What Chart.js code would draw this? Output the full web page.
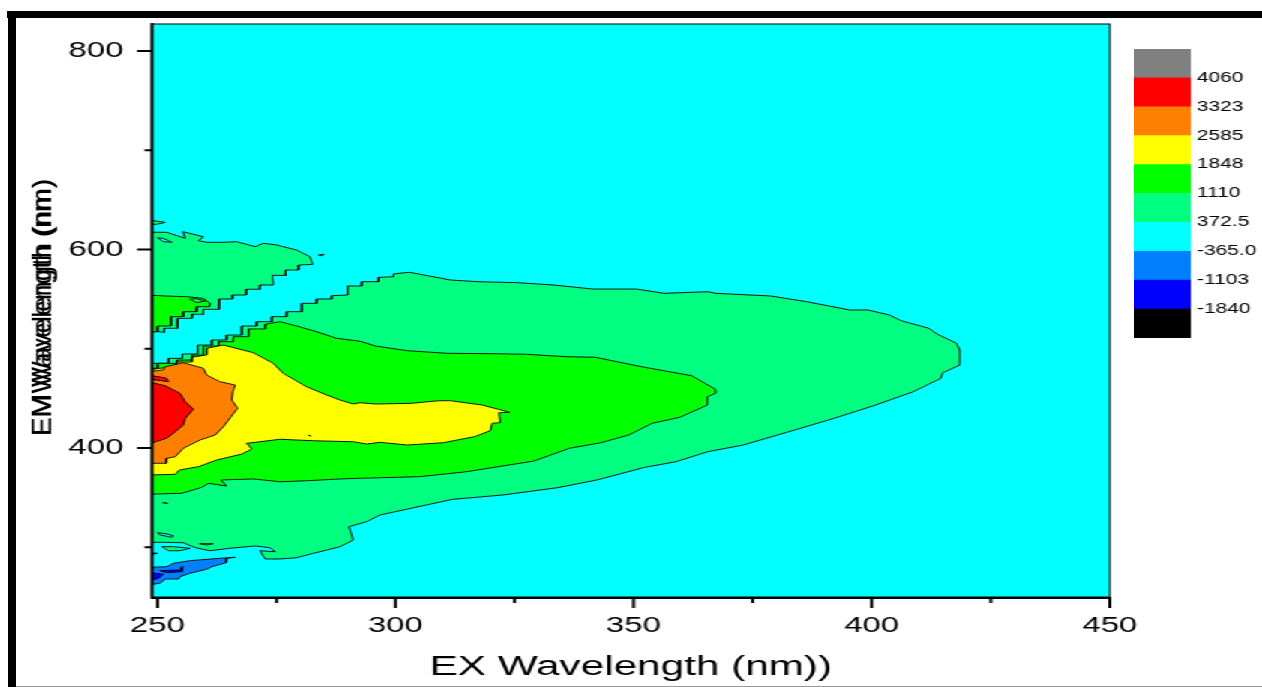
<!DOCTYPE html>
<html lang="en">
<head>
    <meta charset="UTF-8">
    <title>EEM contour</title>
    <script src="https://cdn.jsdelivr.net/npm/chart.js"></script>
    <style>
        html, body { margin: 0; height: 100%; background: #fff; overflow: hidden; }
        /* the figure is a screenshot stretched sideways, so the canvases are too */
        #figure { position: absolute; left: 0; top: 0; width: 841px; height: 687px; transform: scaleX(1.5); transform-origin: 0 0; }
        #plot { position: absolute; left: 0; top: 0; }
        #colorbar { position: absolute; left: 755.5px; top: 44px; }
        .bar { position: absolute; background: #000; }
    </style>
</head>
<body>
    <div id="figure">
        <canvas id="plot" width="841" height="687"></canvas>
        <canvas id="colorbar" width="85" height="299"></canvas>
    </div>
    <!-- Thick picture frame around the pasted figure -->
    <div class="bar" style="left:7px;top:11px;width:1255px;height:7px"></div>
    <div class="bar" style="left:8px;top:11px;width:8px;height:676px"></div>
    <div class="bar" style="left:16px;top:686px;width:1246px;height:1px;background:#999"></div>

    <script>
        // Axis values
        var xMajorTicks = [250, 300, 350, 400, 450];
        var xMinorTicks = [275, 325, 375, 425];
        var yMajorTicks = [400, 600, 800];
        var yMinorTicks = [300, 500, 700];
        var xTitle = 'EX Wavelength (nm))';
        var yTitles = ['EM Wavelength (nm)', 'EMWavelength (nm)'];

        // Colour scale, bottom to top
        var levelColors = ['#000000', '#0000ff', '#0080ff', '#00ffff', '#00ff80', '#00ff00', '#ffff00', '#ff8000', '#ff0000', '#808080'];
        var levelLabels = ['-1840', '-1103', '-365.0', '372.5', '1110', '1848', '2585', '3323', '4060'];

        // Contour outlines as [EX nm, EM nm]
        var mainBody = [[248,305.1],[251.2,305.1],[255.4,304.7],[257.9,299.7],[261,296.6],[265.2,299.1],[270.5,301.4],[273.6,299.7],[274.7,295.6],[271.5,296.6],[272.6,288.3],[275.7,288.3],[279.2,289.6],[282.7,294],[285.5,297.3],[288.3,300.7],[291.1,307.4],[290.2,320.8],[293.9,325.9],[296.7,332.6],[312,348.4],[322.4,352.7],[334,360.1],[342.3,367.9],[352.3,380.6],[358.9,386.3],[365.6,396.4],[373,403.1],[383.8,418.2],[392.1,430],[400.4,442.7],[408.7,456.8],[414.5,470.3],[414.9,475.9],[418.5,483.7],[418.5,498.8],[417.8,505.6],[413.7,514.9],[412,520.7],[406.2,528.3],[403.7,534.1],[399.2,539.1],[395.4,539.1],[386.3,547.5],[378.8,553.2],[367.2,555.9],[365.6,557.5],[356.4,555.9],[350.6,560.2],[341.4,560.2],[333.2,564.3],[325.7,566.6],[317.4,567.6],[311.6,569.3],[302.9,577.1],[299.6,575.4],[299.6,572.6],[296.4,572],[296.4,567.6],[292.9,567.6],[292.9,563.3],[289.9,563.3],[289.9,554.2],[286.6,553.5],[286.6,550.2],[283.4,550.2],[283.4,545.8],[280.3,545.8],[280.3,537.4],[277.1,537.4],[277.1,532.4],[274,532.4],[274,527.3],[270.8,527.3],[270.8,523],[267.7,523],[267.7,513.9],[264.5,513.9],[264.5,508.9],[261.4,508.9],[261.4,503.8],[258.4,503.8],[258.4,494.8],[255.2,494.8],[255.2,490.4],[252.3,490.4],[252.3,485.4],[248,485.4],[248,305.1]];
        var upperIsland = [[248,617.4],[251.9,617.4],[255.8,611.3],[255.3,618],[259.6,612.9],[258.6,608.9],[260.3,607.3],[263.8,607.3],[266.6,607.9],[270.5,602.9],[272.2,606.3],[275,604.6],[279.2,599.5],[282,592.8],[282.6,585.1],[279.6,584.4],[279.6,579.4],[276.9,579.4],[276.9,574],[274.1,574],[274.3,564.3],[271.5,564.3],[271.5,560],[268.6,560],[268.6,554.2],[265.7,554.2],[265.7,550.2],[262.9,550.2],[262.9,539.8],[259.6,539.8],[259.6,534.8],[257.2,534.8],[257.2,530.7],[254.2,530.7],[254.2,520.7],[251.4,520.7],[251.4,516.6],[248,518.3],[248,617.4]];
        var upperCore = [[248,554.2],[251.6,553.2],[256.1,552.5],[259.6,550.9],[261,545.8],[260.9,542.4],[258.2,542.4],[258.2,537.4],[255.4,537.4],[255.4,532.4],[252.8,532.4],[252.8,523],[250,523],[250,517.2],[248,516.6],[248,554.2]];
        var topSliver = [[248,629.8],[251.6,627.4],[249.8,625.4],[248,625.7],[248,629.8]];
        var upperHole = [[250,611.9],[251.2,611.3],[253,607.3],[251.2,607.9],[250,611.9]];
        var upperSpeck = [[283.8,594.5],[285,595.2],[284.5,593.8],[283.8,594.5]];
        var upperCoreHole = [[256.8,549.9],[258.2,550.5],[260,548.2],[258.2,546.5],[256.8,549.9]];
        var level1110 = [[248,353.5],[255.1,354.5],[259.3,360.5],[260.7,364.5],[264.5,361.8],[263.3,367.9],[270.1,368.9],[275.7,366.1],[281.3,367.1],[288.3,368.9],[292.5,369.6],[305,371.2],[314.9,376.2],[329.1,387],[336.5,399.8],[343.1,405.4],[349,413.2],[353.9,425],[359.7,431],[365.5,443.4],[365.5,451.8],[367.2,455.2],[367.2,459.2],[362.2,472.9],[352.3,481.4],[341.9,491.5],[335.7,492.1],[327.4,494.5],[319.9,495.1],[310.8,495.5],[302.5,498.1],[295.8,502.8],[292.5,507.6],[287.6,510.6],[283.4,517.2],[279.2,523],[275.7,527.3],[272.6,524.7],[272.6,520],[269.1,520],[269.1,512.2],[265.9,512.2],[265.9,507.2],[262.8,507.2],[262.8,502.8],[259.6,502.8],[259.6,493.8],[257.2,493.8],[257.2,488.7],[254,488.7],[254,485.4],[250,485.4],[250,480.4],[248,480.4],[248,353.5]];
        var level1848 = [[248,372.9],[253.7,373.6],[254.6,377.9],[258.6,381.3],[262.4,388],[267.7,394],[269.8,399.1],[268.7,404.8],[270.5,405.8],[275.7,408.9],[282.7,407.4],[291.1,406.4],[293.9,404.1],[296.7,405.8],[302.5,403.1],[310,405.4],[316.6,411.5],[319.9,417.5],[320.3,425],[322,425.6],[321.7,435.6],[324,436],[321.6,439.1],[318.2,443.4],[311.6,447.7],[309.1,447.7],[303.3,445.1],[295.8,444.4],[292.5,445.7],[291.1,444.4],[288.3,448.4],[285.5,453.5],[281.3,461.8],[276.4,475.3],[274.3,485.4],[270.1,496.1],[263.8,503.8],[260.3,500.5],[260.3,493.8],[257.2,491.5],[257.2,486.7],[254,486.7],[254,482.7],[248,478.7],[248,372.9]];
        var level2585 = [[248,477],[251.2,478.7],[251.6,482],[255.4,486],[259.6,480.4],[260.3,473.6],[263.1,466.9],[266.3,463.5],[265.8,456.8],[265.6,448.4],[266.8,440.1],[263.8,421.5],[262.1,413.2],[258.9,408.1],[255.4,399.8],[253.7,391.3],[251.9,389.7],[251.8,384.7],[248,384.7],[248,477]];
        var level3323 = [[248,466.9],[251.6,462.8],[254.7,455.2],[255.8,446.7],[257.5,439.1],[255.8,430],[255.4,423.3],[253.3,414.9],[251.9,409.9],[248,403.8],[248,466.9]];
        var redSliver = [[248,473.6],[251.8,470.6],[252.3,466.9],[248,469.6],[248,473.6]];
        var lowerHole = [[250,314.8],[251.9,313.5],[253.3,311.7],[253,310.1],[250.5,312.5],[250,314.8]];
        var lowerSliver = [[250.9,300.7],[253.3,300.7],[256.8,299.1],[254.7,296.6],[252.3,296.6],[250.9,300.7]];
        var lowerSpeck = [[258.8,303.7],[261.7,303.7],[260.3,302.4],[258.8,303.7]];
        var lowerNick = [[248,294.6],[250,294],[248,292.6],[248,294.6]];
        var speckA = [[251.1,345],[252.1,344.4],[251.6,344.7],[251.1,345]];
        var speckB = [[281.7,412.9],[282.2,412.2],[282,412.6],[281.7,412.9]];
        var levelM365 = [[248,279.9],[251.9,280.5],[253.3,283.9],[256.8,286.6],[263.1,289],[266.3,290],[264.5,289],[264.4,284.6],[261.4,280.5],[260.3,277.9],[256.8,273.9],[254.7,270.4],[254.4,268.1],[251.6,268.1],[250.5,263.8],[248,262.1],[248,279.9]];
        var levelM1103 = [[248,274.9],[251.2,272.9],[250.2,268.8],[248,266.1],[248,274.9]];
        var levelM1103b = [[250.5,276.5],[254.7,277.2],[255.3,280.5],[255.1,275.5],[251.9,274.5],[250.5,276.5]];

        // Painted in this order, each one over the last
        var regions = [
            [mainBody, 4], [topSliver, 4], [upperIsland, 4], [upperSpeck, 4], [upperHole, 3], [upperCore, 5], [upperCoreHole, 4],
            [lowerHole, 3], [lowerSliver, 4], [lowerSpeck, 3], [lowerNick, 4], [speckA, 3],
            [level1110, 5], [level1848, 6], [speckB, 5], [level2585, 7], [redSliver, 8], [level3323, 8],
            [levelM365, 2], [levelM1103, 1], [levelM1103b, 1]
        ];

        var stretch = 1.5;
        var fontFamily = '"Liberation Sans", Arial, sans-serif';

        // Cyan floor, frame, tick marks and the doubled y title
        var plotExtras = {
            id: 'plotExtras',
            beforeDatasetsDraw: function (chart) {
                var a = chart.chartArea, ctx = chart.ctx;
                ctx.save();
                ctx.fillStyle = levelColors[3];
                ctx.fillRect(a.left, a.top, a.right - a.left, a.bottom - a.top);
                ctx.restore();
            },
            afterDraw: function (chart) {
                var a = chart.chartArea, ctx = chart.ctx, sx = chart.scales.x, sy = chart.scales.y;
                ctx.save();
                ctx.strokeStyle = '#000';
                ctx.lineWidth = 1;
                ctx.strokeRect(a.left, a.top, a.right - a.left, a.bottom - a.top);
                ctx.lineWidth = 2;
                ctx.beginPath();
                ctx.moveTo(a.left, a.top - 1);
                ctx.lineTo(a.left, a.bottom + 1);
                ctx.lineTo(a.right, a.bottom + 1);
                function xTick(v, len) { var p = sx.getPixelForValue(v); ctx.moveTo(p, a.bottom); ctx.lineTo(p, a.bottom + len); }
                function yTick(v, len) { var p = sy.getPixelForValue(v); ctx.moveTo(a.left, p); ctx.lineTo(a.left - len, p); }
                xMajorTicks.forEach(function (v) { xTick(v, 11); });
                xMinorTicks.forEach(function (v) { xTick(v, 6); });
                yMajorTicks.forEach(function (v) { yTick(v, 10); });
                yMinorTicks.forEach(function (v) { yTick(v, 5); });
                ctx.stroke();

                // Rotated title was not stretched in the original, so undo it here
                ctx.fillStyle = '#000';
                ctx.textBaseline = 'alphabetic';
                ctx.translate(50.5 / stretch, 436);
                ctx.scale(1 / stretch, 1);
                ctx.rotate(-Math.PI / 2);
                ctx.font = '27.5px ' + fontFamily;
                ctx.fillText(yTitles[0], 0, 0);
                ctx.font = '28.3px ' + fontFamily;
                ctx.fillText(yTitles[1], 0, 0);
                ctx.restore();
            }
        };

        new Chart(document.getElementById('plot'), {
            type: 'scatter',
            data: {
                datasets: regions.map(function (r, i) {
                    return {
                        data: r[0].map(function (p) { return { x: p[0], y: p[1] }; }),
                        showLine: true,
                        fill: 'shape',
                        tension: 0,
                        pointRadius: 0,
                        borderColor: '#000',
                        borderWidth: 0.9,
                        backgroundColor: levelColors[r[1]],
                        order: regions.length - i
                    };
                })
            },
            plugins: [plotExtras],
            options: {
                responsive: false,
                animation: false,
                devicePixelRatio: 1,
                layout: { padding: { left: 0, top: 24, right: 101, bottom: 0 } },
                plugins: { legend: { display: false }, tooltip: { enabled: false } },
                scales: {
                    x: {
                        type: 'linear',
                        min: 248.85,
                        max: 450,
                        grid: { display: false, drawTicks: false },
                        border: { display: false },
                        afterBuildTicks: function (s) { s.ticks = xMajorTicks.map(function (v) { return { value: v }; }); },
                        afterFit: function (s) { s.height = 90; s.paddingLeft = 0; s.paddingRight = 0; },
                        ticks: { autoSkip: false, maxRotation: 0, padding: 16, color: '#000', font: { family: fontFamily, size: 22 } },
                        title: { display: true, text: xTitle, color: '#000', padding: { top: 8, bottom: 3 }, font: { family: fontFamily, size: 28.2 } }
                    },
                    y: {
                        type: 'linear',
                        min: 250,
                        max: 827.2,
                        grid: { display: false, drawTicks: false },
                        border: { display: false },
                        afterBuildTicks: function (s) { s.ticks = yMajorTicks.map(function (v) { return { value: v }; }); },
                        afterFit: function (s) { s.width = 101.3; s.paddingTop = 0; s.paddingBottom = 0; },
                        ticks: { autoSkip: false, padding: 19, color: '#000', font: { family: fontFamily, size: 22 } }
                    }
                }
            }
        });

        // Colour scale as one stacked bar
        new Chart(document.getElementById('colorbar'), {
            type: 'bar',
            data: {
                labels: [''],
                datasets: levelColors.map(function (c) {
                    return { data: [1], backgroundColor: c, barPercentage: 1, categoryPercentage: 1, stack: 'scale' };
                })
            },
            options: {
                responsive: false,
                animation: false,
                devicePixelRatio: 1,
                layout: { padding: { top: 5, bottom: 5 } },
                plugins: { legend: { display: false }, tooltip: { enabled: false } },
                scales: {
                    x: { display: false, stacked: true },
                    y: {
                        position: 'right',
                        stacked: true,
                        min: 0,
                        max: 10,
                        grid: { display: false, drawTicks: false },
                        border: { display: false },
                        afterFit: function (s) { s.width = 47; s.paddingTop = 0; s.paddingBottom = 0; },
                        ticks: {
                            stepSize: 1,
                            padding: 4,
                            color: '#000',
                            font: { family: fontFamily, size: 14 },
                            callback: function (v) { return levelLabels[v - 1] || ''; }
                        }
                    }
                }
            }
        });
    </script>
</body>
</html>
